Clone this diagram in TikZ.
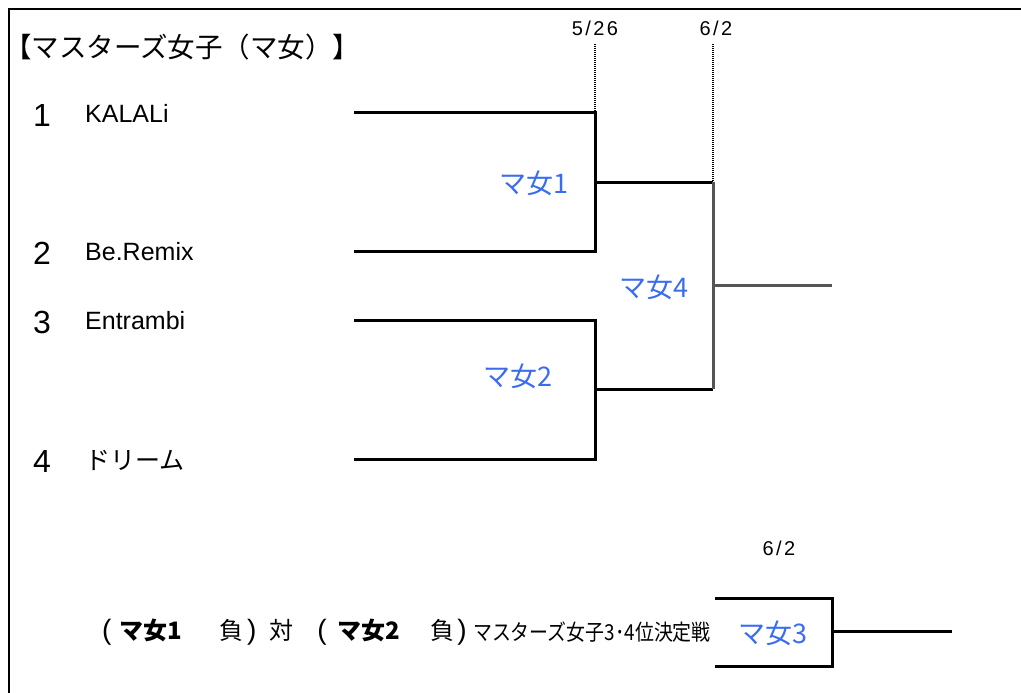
\documentclass[tikz,border=0pt]{standalone}
\usepackage{fontspec}
\setmainfont{Liberation Sans}
\newfontfamily\jpfont{Noto Sans CJK JP}
\newfontfamily\jpnarrow{Noto Sans CJK JP}[FakeStretch=0.86]
\newfontfamily\datefont{Liberation Sans}[LetterSpace=12]
\newcommand{\tallparen}[1]{{\fontsize{28}{30}\selectfont #1}}
\usetikzlibrary{positioning}
\definecolor{matchblue}{HTML}{3A6CF0}
\definecolor{wingray}{HTML}{555555}

\begin{document}
\begin{tikzpicture}[x=1pt, y=-1pt,
    bracket/.style={draw=black, line width=3pt},
    winline/.style={draw=wingray, line width=3pt},
    dayline/.style={draw=black, line width=2.5pt, dash pattern=on 1pt off 1pt},
    seed/.style={inner sep=0pt, font=\fontsize{32}{36}\selectfont},
    team/.style={inner sep=0pt, anchor=west, font=\fontsize{25}{30}\selectfont},
    matchlbl/.style={inner sep=0pt, text=matchblue, font=\fontsize{27}{32}\selectfont\jpfont},
    datelbl/.style={inner sep=0pt, font=\fontsize{20}{24}\selectfont\datefont}
    ]
        \useasboundingbox (0,0) rectangle (1021,693);
        %Frame
        \draw[line width=1.5pt] (9,693) -- (9,9) -- (1021,9);

        %Nodes
        \node[inner sep=0pt, anchor=west, font=\fontsize{27.5}{31}\selectfont\jpfont]
            (title) at (4,47) {【マスターズ女子（マ女）】};
        \node[datelbl] (d1) at (595,28) {5/26};
        \node[datelbl] (d2) at (716,28) {6/2};
        \node[datelbl] (d3) at (779,548) {6/2};

        \node[seed] (s1) at (42,115) {1};
        \node[seed] (s2) at (42,253) {2};
        \node[seed] (s3) at (42,322) {3};
        \node[seed] (s4) at (42,461) {4};
        \node[team] (n1) at (85,113) {KALALi};
        \node[team] (n2) at (85,252) {Be.Remix};
        \node[team] (n3) at (85,321) {Entrambi};
        \node[team] (n4) at (85,460) {\jpfont ドリーム};

        \node[matchlbl] (m1) at (534,183) {マ女1};
        \node[matchlbl] (m2) at (518,376) {マ女2};
        \node[matchlbl] (m4) at (654,287) {マ女4};
        \node[matchlbl] (m3) at (773,633) {マ女3};

        \node[inner sep=0pt, anchor=west, font=\fontsize{24}{28}\selectfont]
            (loser) at (102,632) {\tallparen{(}\hspace{8pt}{\jpfont\bfseries マ女1}\hspace{37pt}{\jpfont 負}\hspace{4pt}\tallparen{)}\hspace{13pt}{\jpfont 対}\hspace{24pt}\tallparen{(}\hspace{11pt}{\jpfont\bfseries マ女2}\hspace{30pt}{\jpfont 負}\hspace{3pt}\tallparen{)}};
        \node[inner sep=0pt, anchor=west, font=\fontsize{22}{26}\selectfont\jpnarrow]
            (third) [right=6pt of loser] {マスターズ女子3･4位決定戦};

        %Bracket points
        \coordinate (t1) at (354,113);
        \coordinate (t2) at (354,251);
        \coordinate (t3) at (354,320);
        \coordinate (t4) at (354,459);
        \coordinate (j1) at (595,182);
        \coordinate (j2) at (595,389);
        \coordinate (f1) at (713,182);
        \coordinate (f2) at (713,389);
        \coordinate (fw) at (832,285);
        \coordinate (b1) at (715,598);
        \coordinate (b2) at (715,666);
        \coordinate (bw) at (952,631);

        %Lines
        \draw[dayline] (d1.south |- 0,44) -- (595,112);
        \draw[dayline] (713,44) -- (f1);
        \draw[bracket] (t1) -| (j1) |- (t2);
        \draw[bracket] (t3) -| (j2) |- (t4);
        \draw[bracket] (j1) -- (f1);
        \draw[bracket] (j2) -- (f2);
        \draw[winline] (f1) -- (f2);
        \draw[winline] (f1 |- fw) -- (fw);
        \draw[bracket] (b1) -| (832,631) |- (b2);
        \draw[bracket] (832,631) -- (bw);
\end{tikzpicture}
\end{document}
